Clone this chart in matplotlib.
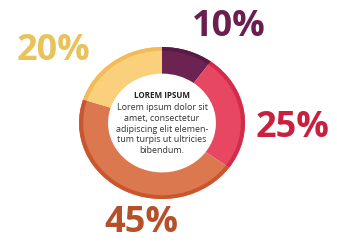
import matplotlib
matplotlib.use("Agg")
import matplotlib.pyplot as plt

# data
shares = [10, 25, 45, 20]
labels = ["10%", "25%", "45%", "20%"]
colors = ["#6c2352", "#e84761", "#dc7850", "#fbd07c"]
rim_colors = ["#5a1a45", "#d32b4b", "#c9562f", "#f2bb55"]
label_colors = ["#6a1f4e", "#c8213f", "#b5502a", "#e8c25a"]
title = "LOREM IPSUM"
body = "Lorem ipsum dolor sit\namet, consectetur\nadipiscing elit elemen-\ntum turpis ut ultricies\nbibendum."

W, H = 337, 242
cx, cy = 162, 123       # pixel centre of the ring
rx, ry = 83, 76         # pixel radii

fig = plt.figure(figsize=(W / 100, H / 100), dpi=100)
ax = fig.add_axes([0, 0, 1, 1])

ax.pie(shares, colors=colors, startangle=90, counterclock=False, radius=1.0,
       wedgeprops=dict(width=0.35, linewidth=0), frame=True)
ax.pie(shares, colors=rim_colors, startangle=90, counterclock=False, radius=1.0,
       wedgeprops=dict(width=0.05, linewidth=0), frame=True)

ax.set_aspect("auto")
ax.set_xlim(-cx / rx, (W - cx) / rx)
ax.set_ylim(-(H - cy) / ry, cy / ry)
ax.axis("off")

def px(x, y):
    return ((x - cx) / rx, (cy - y) / ry)

label_pos = [(229, 27), (293, 128), (141, 223), (53, 51)]
for lab, col, (x, y) in zip(labels, label_colors, label_pos):
    ax.text(*px(x, y), lab, color=col, fontsize=26, fontweight="bold",
            family="Open Sans", ha="center", va="center")

ax.text(*px(162, 95), title, fontsize=5.8, fontweight="bold", family="Open Sans",
        color="#222222", ha="center", va="center")
ax.text(*px(162, 129), body, fontsize=6.4, family="Open Sans", color="#333333",
        ha="center", va="center", linespacing=1.25)

fig.savefig("out.png", dpi=100, facecolor="white")
